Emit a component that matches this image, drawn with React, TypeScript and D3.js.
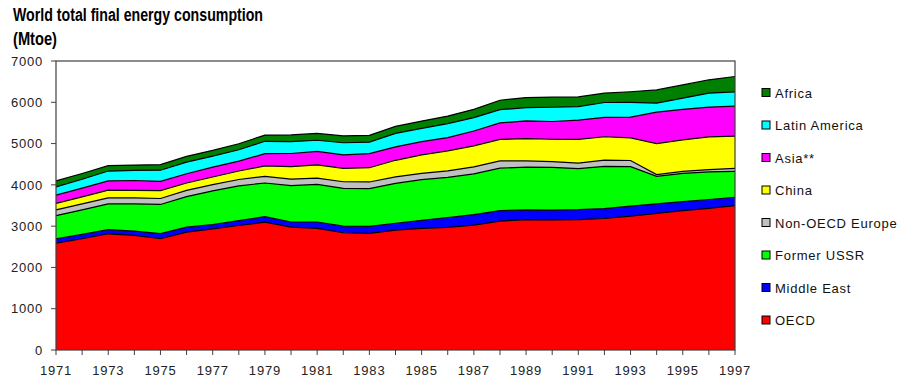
import React, { useEffect, useRef } from 'react';
import * as d3 from 'd3';

const years = [
  1971, 1972, 1973, 1974, 1975, 1976, 1977, 1978, 1979, 1980, 1981, 1982, 1983, 1984,
  1985, 1986, 1987, 1988, 1989, 1990, 1991, 1992, 1993, 1994, 1995, 1996, 1997,
];

// Mtoe
const oecd = [2590, 2695, 2815, 2775, 2695, 2855, 2935, 3015, 3095, 2975, 2945, 2840, 2825, 2905, 2945, 2970, 3025, 3120, 3160, 3150, 3160, 3185, 3245, 3310, 3375, 3430, 3495];
const middleEast = [105, 105, 100, 105, 125, 120, 105, 120, 135, 125, 155, 160, 170, 165, 195, 240, 255, 255, 235, 240, 240, 240, 240, 230, 220, 215, 205];
const formerUssr = [560, 595, 625, 660, 705, 740, 815, 840, 815, 880, 910, 915, 915, 965, 985, 970, 985, 1030, 1035, 1035, 995, 1025, 955, 665, 685, 670, 625];
const nonOecdEurope = [140, 145, 145, 145, 145, 150, 150, 155, 160, 160, 155, 160, 160, 160, 155, 160, 170, 175, 150, 140, 130, 150, 150, 45, 45, 55, 75];
const china = [155, 170, 185, 180, 190, 180, 185, 205, 255, 300, 320, 325, 345, 400, 445, 485, 510, 520, 540, 540, 575, 565, 550, 750, 765, 790, 780];
const asia = [200, 210, 225, 240, 225, 225, 240, 240, 295, 320, 325, 325, 340, 325, 320, 320, 360, 400, 430, 430, 470, 470, 500, 760, 740, 725, 725];
const latinAmerica = [200, 215, 240, 245, 270, 280, 265, 275, 300, 285, 270, 295, 280, 325, 325, 340, 325, 320, 320, 345, 325, 360, 360, 220, 270, 335, 345];
const africa = [145, 140, 130, 130, 135, 140, 140, 145, 150, 165, 165, 165, 165, 170, 175, 180, 200, 230, 245, 245, 235, 225, 255, 320, 320, 325, 375];

const seriesNames = ['OECD', 'Middle East', 'Former USSR', 'Non-OECD Europe', 'China', 'Asia**', 'Latin America', 'Africa'];
const seriesValues = [oecd, middleEast, formerUssr, nonOecdEurope, china, asia, latinAmerica, africa];
const seriesColors = ['#ff0000', '#0000ff', '#00ff00', '#c0c0c0', '#ffff00', '#ff00ff', '#00ffff', '#008000'];

const yTicks = [0, 1000, 2000, 3000, 4000, 5000, 6000, 7000];
const xLabels = [1971, 1973, 1975, 1977, 1979, 1981, 1983, 1985, 1987, 1989, 1991, 1993, 1995, 1997];

const W = 915;
const H = 389;
const plot = { left: 56, right: 735, top: 61, bottom: 350 };
const tickFont = '"Liberation Sans", Arial, sans-serif';

const App: React.FC = () => {
  const svgRef = useRef<SVGSVGElement>(null);

  useEffect(() => {
    if (!svgRef.current) return;
    const svg = d3.select(svgRef.current);
    svg.selectAll('*').remove();

    const x = d3.scaleLinear().domain([1971, 1997]).range([plot.left, plot.right]);
    const y = d3.scaleLinear().domain([0, 7000]).range([plot.bottom, plot.top]);

    const table = years.map((yr, i) => {
      const row: Record<string, number> = { year: yr };
      seriesNames.forEach((n, s) => { row[n] = seriesValues[s][i]; });
      return row;
    });

    const stacked = d3.stack<Record<string, number>>().keys(seriesNames)(table);

    const area = d3.area<d3.SeriesPoint<Record<string, number>>>()
      .x(d => x(d.data.year))
      .y0(d => y(d[0]))
      .y1(d => y(d[1]));

    const topLine = d3.line<d3.SeriesPoint<Record<string, number>>>()
      .x(d => x(d.data.year))
      .y(d => y(d[1]));

    // areas
    svg.append('g')
      .selectAll('path')
      .data(stacked)
      .enter()
      .append('path')
      .attr('d', d => area(d) || '')
      .attr('fill', (_, i) => seriesColors[i]);

    // black outline on top of each band
    svg.append('g')
      .selectAll('path')
      .data(stacked)
      .enter()
      .append('path')
      .attr('d', d => topLine(d) || '')
      .attr('fill', 'none')
      .attr('stroke', '#000')
      .attr('stroke-width', 1.2);

    // frame
    svg.append('rect')
      .attr('x', plot.left)
      .attr('y', plot.top)
      .attr('width', plot.right - plot.left)
      .attr('height', plot.bottom - plot.top)
      .attr('fill', 'none')
      .attr('stroke', '#404040')
      .attr('stroke-width', 1.2);

    // y axis
    const yAxis = svg.append('g');
    yAxis.selectAll('line')
      .data(yTicks)
      .enter()
      .append('line')
      .attr('x1', plot.left - 5)
      .attr('x2', plot.left)
      .attr('y1', d => y(d))
      .attr('y2', d => y(d))
      .attr('stroke', '#404040');
    yAxis.selectAll('text')
      .data(yTicks)
      .enter()
      .append('text')
      .attr('x', plot.left - 13)
      .attr('y', d => y(d))
      .attr('dy', '0.36em')
      .attr('text-anchor', 'end')
      .attr('font-family', tickFont)
      .attr('font-size', 13)
      .attr('letter-spacing', 0.8)
      .attr('fill', '#222')
      .text(d => String(d));

    // x axis
    const xAxis = svg.append('g');
    xAxis.selectAll('line')
      .data(years)
      .enter()
      .append('line')
      .attr('x1', d => x(d))
      .attr('x2', d => x(d))
      .attr('y1', plot.bottom)
      .attr('y2', plot.bottom + 5)
      .attr('stroke', '#404040');
    xAxis.selectAll('text')
      .data(xLabels)
      .enter()
      .append('text')
      .attr('x', d => x(d))
      .attr('y', plot.bottom + 25)
      .attr('text-anchor', 'middle')
      .attr('font-family', tickFont)
      .attr('font-size', 13)
      .attr('letter-spacing', 0.8)
      .attr('fill', '#222')
      .text(d => String(d));

    // legend, top entry is the last series
    const legend = svg.append('g');
    const order = seriesNames.map((_, i) => seriesNames.length - 1 - i);
    const item = legend.selectAll('g')
      .data(order)
      .enter()
      .append('g')
      .attr('transform', (_, k) => `translate(762,${93 + k * 32.5})`);
    item.append('rect')
      .attr('x', 0)
      .attr('y', -4.5)
      .attr('width', 8)
      .attr('height', 8)
      .attr('fill', i => seriesColors[i])
      .attr('stroke', '#000')
      .attr('stroke-width', 1);
    item.append('text')
      .attr('x', 13)
      .attr('y', 0)
      .attr('dy', '0.36em')
      .attr('font-family', tickFont)
      .attr('font-size', 13)
      .attr('letter-spacing', 0.75)
      .attr('fill', '#111')
      .text(i => seriesNames[i]);

    // title, condensed bold
    const title = svg.append('g')
      .attr('font-family', '"Liberation Sans", Arial, sans-serif')
      .attr('font-weight', 'bold')
      .attr('font-size', 18)
      .attr('fill', '#000');
    title.append('text')
      .attr('x', 13).attr('y', 21)
      .attr('textLength', 250)
      .attr('lengthAdjust', 'spacingAndGlyphs')
      .text('World total final energy consumption');
    title.append('text')
      .attr('x', 13).attr('y', 45)
      .attr('textLength', 44)
      .attr('lengthAdjust', 'spacingAndGlyphs')
      .text('(Mtoe)');
  }, []);

  return (
    <svg
      ref={svgRef}
      width={W}
      height={H}
      viewBox={`0 0 ${W} ${H}`}
      style={{ position: 'absolute', left: 0, top: 0, background: '#fff' }}
    />
  );
};

export default App;
